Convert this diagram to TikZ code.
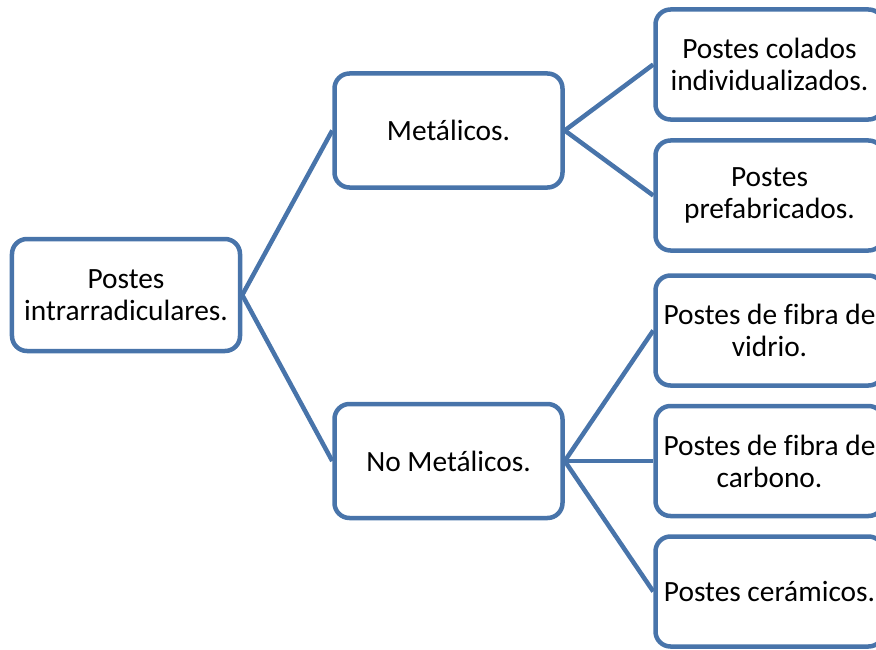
\documentclass[tikz,border=0pt]{standalone}
\usepackage{fontspec}
\setmainfont[Ligatures=CommonOff]{Carlito}
\definecolor{boxblue}{RGB}{72,116,170}
\begin{document}
\begin{tikzpicture}[x=1bp,y=-1bp,
  box/.style={draw=boxblue, line width=4.5bp, fill=white, rounded corners=15bp,
    minimum width=228bp, inner sep=0pt, align=center,
    font=\fontsize{29.5}{32}\selectfont},
  conn/.style={draw=boxblue, line width=4.5bp}]
\useasboundingbox (0,0) rectangle (876,650);
\begin{scope}
\clip (0,0) rectangle (876,650);
\node[box, minimum height=112bp] (root) at (126,295) {Postes\\intrarradiculares.};
\node[box, minimum height=114bp] (met) at (448.5,130.5) {Metálicos.};
\node[box, minimum height=114bp] (nomet) at (448.5,461) {No Metálicos.};
\node[box, minimum height=110bp] (r1) at (769.5,64.5) {Postes colados\\individualizados.};
\node[box, minimum height=110bp] (r2) at (769.5,195.5) {Postes\\prefabricados.};
\node[box, minimum height=110bp] (r3) at (769.5,330.5) {Postes de fibra de\\vidrio.};
\node[box, minimum height=110bp] (r4) at (769.5,461) {Postes de fibra de\\carbono.};
\node[box, minimum height=110bp] (r5) at (769.5,591.5) {Postes cerámicos.};
\draw[conn] (root.east) -- (met.west);
\draw[conn] (root.east) -- (nomet.west);
\draw[conn] (met.east) -- (r1.west);
\draw[conn] (met.east) -- (r2.west);
\draw[conn] (nomet.east) -- (r3.west);
\draw[conn] (nomet.east) -- (r4.west);
\draw[conn] (nomet.east) -- (r5.west);
\end{scope}
\end{tikzpicture}
\end{document}
